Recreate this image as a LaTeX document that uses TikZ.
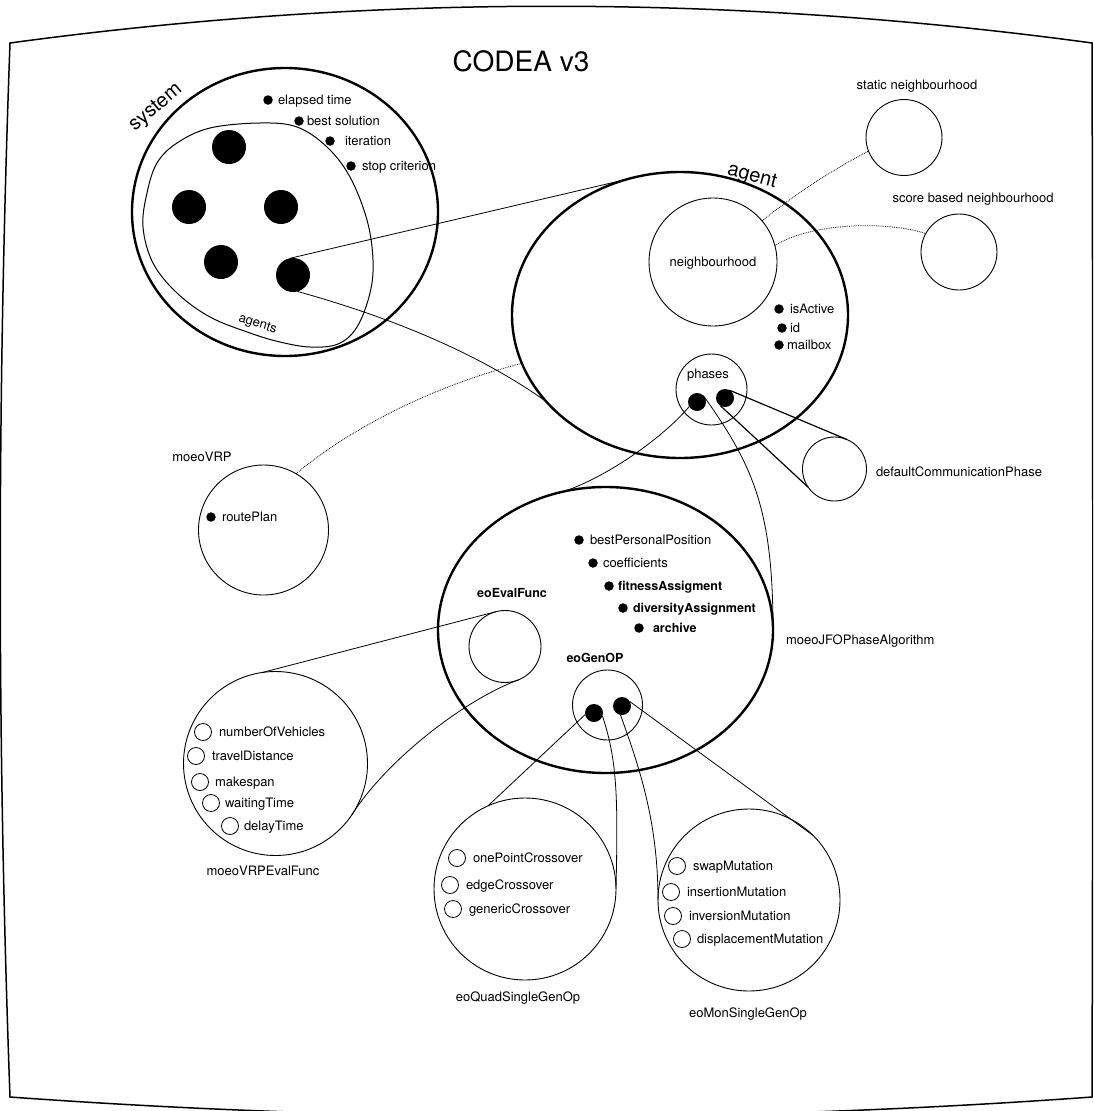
\documentclass[tikz,border=0pt]{standalone}
\usepackage{fontspec}
\setmainfont{TeX Gyre Heros}
\usetikzlibrary{shapes.geometric}
\begin{document}
\begin{tikzpicture}[x=1pt,y=-1pt,
  every node/.style={inner sep=0pt, outer sep=0pt},
  lbl/.style={font=\fontsize{13}{15}\selectfont, text height=9pt, text depth=0pt},
  blbl/.style={font=\fontsize{12.5}{15}\selectfont\bfseries, text height=9pt, text depth=0pt},
  bigtxt/.style={font=\fontsize{20}{22}\selectfont},
  bul/.style={circle, fill=black, minimum size=9.5pt},
  bigdot/.style={circle, fill=black, minimum size=34pt},
  pdot/.style={circle, fill=black, minimum size=18pt},
  ring/.style={circle, draw, line width=0.9pt},
  icirc/.style={circle, draw, line width=0.8pt, minimum size=17pt},
  oval/.style={ellipse, draw, line width=2.4pt},
  conn/.style={line width=0.8pt},
  conntwo/.style={line width=1.2pt},
  dconn/.style={line width=0.8pt, densely dotted},
]
\useasboundingbox (0,0) rectangle (1093,1111);
\clip (0,0) rectangle (1093,1111);

% frame
\draw[line width=1.5pt] (10,43) .. controls (370,-6) and (732,-6) .. (1092,43)
  .. controls (1093,400) and (1093,740) .. (1092,1097)
  .. controls (732,1123) and (370,1123) .. (10,1097)
  .. controls (-3,740) and (-3,400) .. cycle;
\node[font=\fontsize{28}{30}\selectfont] (title) at (521,61) {CODEA v3};

% system
\node[oval, minimum width=306pt, minimum height=288pt] (sys) at (285,212) {};
\node[bigtxt, rotate=40] (syslbl) at (156,108) {system};
\draw[line width=1pt] plot[smooth cycle, tension=0.6] coordinates {
  (210,128) (260,123) (297,127) (327,147) (350,177) (367,220) (373,260)
  (370,293) (357,327) (338,344) (310,347) (280,342) (250,333) (210,317)
  (177,293) (153,263) (143,227) (147,193) (157,163) (177,143)};
\node[lbl, rotate=-17] (agentslbl) at (258,323) {agents};
\node[bigdot] (a1) at (229,147) {};
\node[bigdot] (a2) at (189,207) {};
\node[bigdot] (a3) at (281,207) {};
\node[bigdot] (a4) at (221,262) {};
\node[bigdot] (a5) at (293,275) {};
\node[bul] (s1) at (268,100) {}; \node[lbl, anchor=west] (s1t) at (278,100) {elapsed time};
\node[bul] (s2) at (299,121) {}; \node[lbl, anchor=west] (s2t) at (307,121) {best solution};
\node[bul] (s3) at (330,141) {}; \node[lbl, anchor=west] (s3t) at (345,141) {iteration};
\node[bul] (s4) at (351,166) {}; \node[lbl, anchor=west] (s4t) at (362,166) {stop criterion};

% agent
\node[oval, minimum width=336pt, minimum height=286pt] (agent) at (680,315) {};
\node[bigtxt, rotate=-15] (agentlbl) at (752,177) {agent};
\node[ring, lbl, minimum size=128pt] (nbh) at (713,262) {neighbourhood};
\node[bul] (i1) at (779,309) {}; \node[lbl, anchor=west] (i1t) at (790,309) {isActive};
\node[bul] (i2) at (782,328) {}; \node[lbl, anchor=west] (i2t) at (790,328) {id};
\node[bul] (i3) at (779,345) {}; \node[lbl, anchor=west] (i3t) at (787,345) {mailbox};
\node[ring, minimum size=71pt] (phases) at (711.5,389.5) {};
\node[lbl] (phaseslbl) at (708,374) {phases};
\node[pdot] (ph1) at (697,402) {};
\node[pdot] (ph2) at (725,398) {};

% neighbourhoods
\node[ring, minimum size=76pt] (stat) at (904,137.5) {};
\node[lbl] (statlbl) at (917,85) {static neighbourhood};
\node[ring, minimum size=76pt] (score) at (959,252) {};
\node[lbl] (scorelbl) at (973,198) {score based neighbourhood};

% default communication phase
\node[ring, minimum size=64pt] (dcp) at (834.5,469) {};
\node[lbl, anchor=west] (dcplbl) at (876,472) {defaultCommunicationPhase};

% moeoVRP
\node[ring, minimum size=130pt] (vrp) at (263.5,530) {};
\node[lbl] (vrplbl) at (202,457) {moeoVRP};
\node[bul] (rp) at (211,517) {}; \node[lbl, anchor=west] (rpt) at (222,517) {routePlan};

% moeoJFOPhaseAlgorithm
\node[oval, minimum width=335pt, minimum height=286pt] (jfo) at (605.5,630) {};
\node[lbl, anchor=west] (jfolbl) at (786,640) {moeoJFOPhaseAlgorithm};
\node[bul] (j1) at (579,540) {}; \node[lbl, anchor=west] (j1t) at (590,540) {bestPersonalPosition};
\node[bul] (j2) at (593,563) {}; \node[lbl, anchor=west] (j2t) at (603,563) {coefficients};
\node[bul] (j3) at (609,586) {}; \node[blbl, anchor=west] (j3t) at (618,586) {fitnessAssigment};
\node[bul] (j4) at (623,608) {}; \node[blbl, anchor=west] (j4t) at (633,608) {diversityAssignment};
\node[bul] (j5) at (639,628) {}; \node[blbl, anchor=west] (j5t) at (653,628) {archive};
\node[ring, minimum size=72pt] (evalf) at (505,646.5) {};
\node[blbl] (evalflbl) at (512,593) {eoEvalFunc};
\node[ring, minimum size=70pt] (genop) at (607.5,705) {};
\node[blbl] (genoplbl) at (595,658) {eoGenOP};
\node[pdot] (g1) at (594,713) {};
\node[pdot] (g2) at (622,706) {};

% moeoVRPEvalFunc
\node[ring, minimum size=184pt] (vrpeval) at (275.5,763.5) {};
\node[lbl] (vrpevallbl) at (263,871) {moeoVRPEvalFunc};
\node[icirc] (e1) at (203,732) {}; \node[lbl, anchor=west] (e1t) at (219,732) {numberOfVehicles};
\node[icirc] (e2) at (196,756) {}; \node[lbl, anchor=west] (e2t) at (212,756) {travelDistance};
\node[icirc] (e3) at (200,782) {}; \node[lbl, anchor=west] (e3t) at (215,782) {makespan};
\node[icirc] (e4) at (211,803) {}; \node[lbl, anchor=west] (e4t) at (225,803) {waitingTime};
\node[icirc] (e5) at (230,826) {}; \node[lbl, anchor=west] (e5t) at (244,826) {delayTime};

% eoQuadSingleGenOp
\node[ring, minimum size=182pt] (quad) at (525,889) {};
\node[lbl] (quadlbl) at (518,997) {eoQuadSingleGenOp};
\node[icirc] (q1) at (457,858) {}; \node[lbl, anchor=west] (q1t) at (473,858) {onePointCrossover};
\node[icirc] (q2) at (450,885) {}; \node[lbl, anchor=west] (q2t) at (466,885) {edgeCrossover};
\node[icirc] (q3) at (453,909) {}; \node[lbl, anchor=west] (q3t) at (469,909) {genericCrossover};

% eoMonSingleGenOp
\node[ring, minimum size=182pt] (mon) at (749,900) {};
\node[lbl] (monlbl) at (748,1013) {eoMonSingleGenOp};
\node[icirc] (m1) at (677,866) {}; \node[lbl, anchor=west] (m1t) at (693,866) {swapMutation};
\node[icirc] (m2) at (671,892) {}; \node[lbl, anchor=west] (m2t) at (687,892) {insertionMutation};
\node[icirc] (m3) at (673,916) {}; \node[lbl, anchor=west] (m3t) at (689,916) {inversionMutation};
\node[icirc] (m4) at (682,939) {}; \node[lbl, anchor=west] (m4t) at (697,939) {displacementMutation};

% connectors
\draw[conn] (a5.100) -- (agent.111);
\draw[conn] (a5.285) .. controls +(90,25) and +(-70,-50) .. (agent.213.7);
\draw[dconn] (nbh.40) .. controls +(35,-28) and +(-35,18) .. (stat.201);
\draw[dconn] (nbh.15) .. controls +(40,-24) and +(-35,-12) .. (score.151);
\draw[dconn] (vrp.60) .. controls +(60,-50) and +(-80,20) .. (agent.197.7);
\draw[conn] (ph1.210) .. controls +(-25,30) and +(45,-15) .. (jfo.107);
\draw[conn] (ph1.45) .. controls +(50,70) and +(0,-120) .. (jfo.east);
\draw[conntwo] (ph2.60) -- (dcp.67);
\draw[conntwo] (ph2.240) -- (dcp.215);
\draw[conn] (evalf.103) -- (vrpeval.98);
\draw[conn] (evalf.294) .. controls +(-55,20) and +(35,-55) .. (vrpeval.-34);
\draw[conn] (g1.190) -- (quad.114);
\draw[conn] (g1.340) .. controls +(15,45) and +(2,-90) .. (quad.east);
\draw[conn] (g2.30) -- (mon.45);
\draw[conn] (g2.260) .. controls +(18,50) and +(0,-80) .. (mon.west);
\end{tikzpicture}
\end{document}
